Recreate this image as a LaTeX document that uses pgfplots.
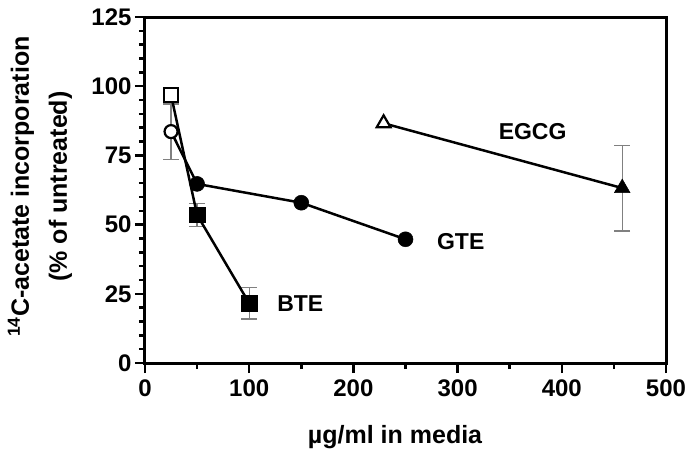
\documentclass[border=0pt]{standalone}
\usepackage{fontspec}
\setmainfont{Liberation Sans}
\usepackage{pgfplots}
\pgfplotsset{compat=1.18}
\begin{document}
\begin{tikzpicture}
\begin{axis}[
  scale only axis, width=521pt, height=346pt,
  xmin=0, xmax=500, ymin=0, ymax=125,
  xtick={0,100,...,500}, minor x tick num=1,
  ytick={0,25,...,125}, minor y tick num=4,
  tick align=outside, xtick pos=left, ytick pos=left,
  major tick length=10pt, minor tick length=6pt,
  axis line style={line width=3pt},
  every tick/.style={black, line width=2.5pt},
  /pgf/number format/assume math mode=true,
  tick label style={font=\bfseries\fontsize{24}{28}\selectfont},
  xticklabel style={yshift=-3pt},
  xlabel={µg/ml in media},
  xlabel style={at={(axis description cs:0.48,-0.214)}, anchor=center, font=\bfseries\fontsize{25}{30}\selectfont},
  ylabel={\textsuperscript{14}C-acetate incorporation\\(\% of untreated)},
  ylabel style={at={(axis description cs:-0.2015,0.51)}, anchor=center, align=center, font=\bfseries\fontsize{25}{38}\selectfont},
  clip=false,
]
% error bars
\addplot[gray, line width=1.3pt, draw=none, mark=none,
  error bars/.cd, y dir=both, y explicit,
  error bar style={draw=gray, line width=1.3pt},
  error mark=-,
  error mark options={rotate=90, draw=gray, line width=1.3pt, mark size=8pt}]
  coordinates {
  (25,83.6) +- (0,10)
  (50,53.5) +- (0,4.2)
  (100,21.6) +- (0,5.7)
  (458,63.2) +- (0,15.5)
  };
% lines
\addplot[black, line width=2.5pt, mark=none] coordinates {(25,83.6) (50,64.7) (150,57.9) (250,44.7)};
\addplot[black, line width=2.5pt, mark=none] coordinates {(25,96.8) (50,53.5) (100,21.6)};
\addplot[black, line width=2.5pt, mark=none] coordinates {(229,86.6) (458,63.2)};
% GTE markers
\addplot[only marks, mark=*, mark size=7.5pt, mark options={fill=black, draw=black, line width=0.5pt}] coordinates {(50,64.7) (150,57.9) (250,44.7)};
\addplot[only marks, mark=*, mark size=6.5pt, mark options={fill=white, draw=black, line width=2.2pt}] coordinates {(25,83.6)};
% BTE markers
\addplot[only marks, mark=square*, mark size=7.7pt, mark options={fill=black, draw=black, line width=0.5pt}] coordinates {(50,53.5) (100,21.6)};
\addplot[only marks, mark=square*, mark size=7pt, mark options={fill=white, draw=black, line width=2.5pt}] coordinates {(25,96.8)};
% EGCG markers
\addplot[only marks, mark=triangle*, mark size=9pt, mark options={fill=black, draw=black, line width=0.5pt}] coordinates {(458,63.2)};
\addplot[only marks, mark=triangle*, mark size=8pt, mark options={fill=white, draw=black, line width=2.2pt}] coordinates {(229,86.6)};
% labels
\node[font=\bfseries\fontsize{23}{28}\selectfont] at (axis cs:372,83.6) {EGCG};
\node[font=\bfseries\fontsize{23}{28}\selectfont] at (axis cs:303,43.9) {GTE};
\node[font=\bfseries\fontsize{23}{28}\selectfont] at (axis cs:149,21.4) {BTE};
\coordinate (bl) at (rel axis cs:0,0);
\coordinate (tr) at (rel axis cs:1,1);
\end{axis}
\pgfresetboundingbox
\path (bl) +(-145pt,-96pt);
\path (tr) +(26pt,17pt);
\end{tikzpicture}
\end{document}
